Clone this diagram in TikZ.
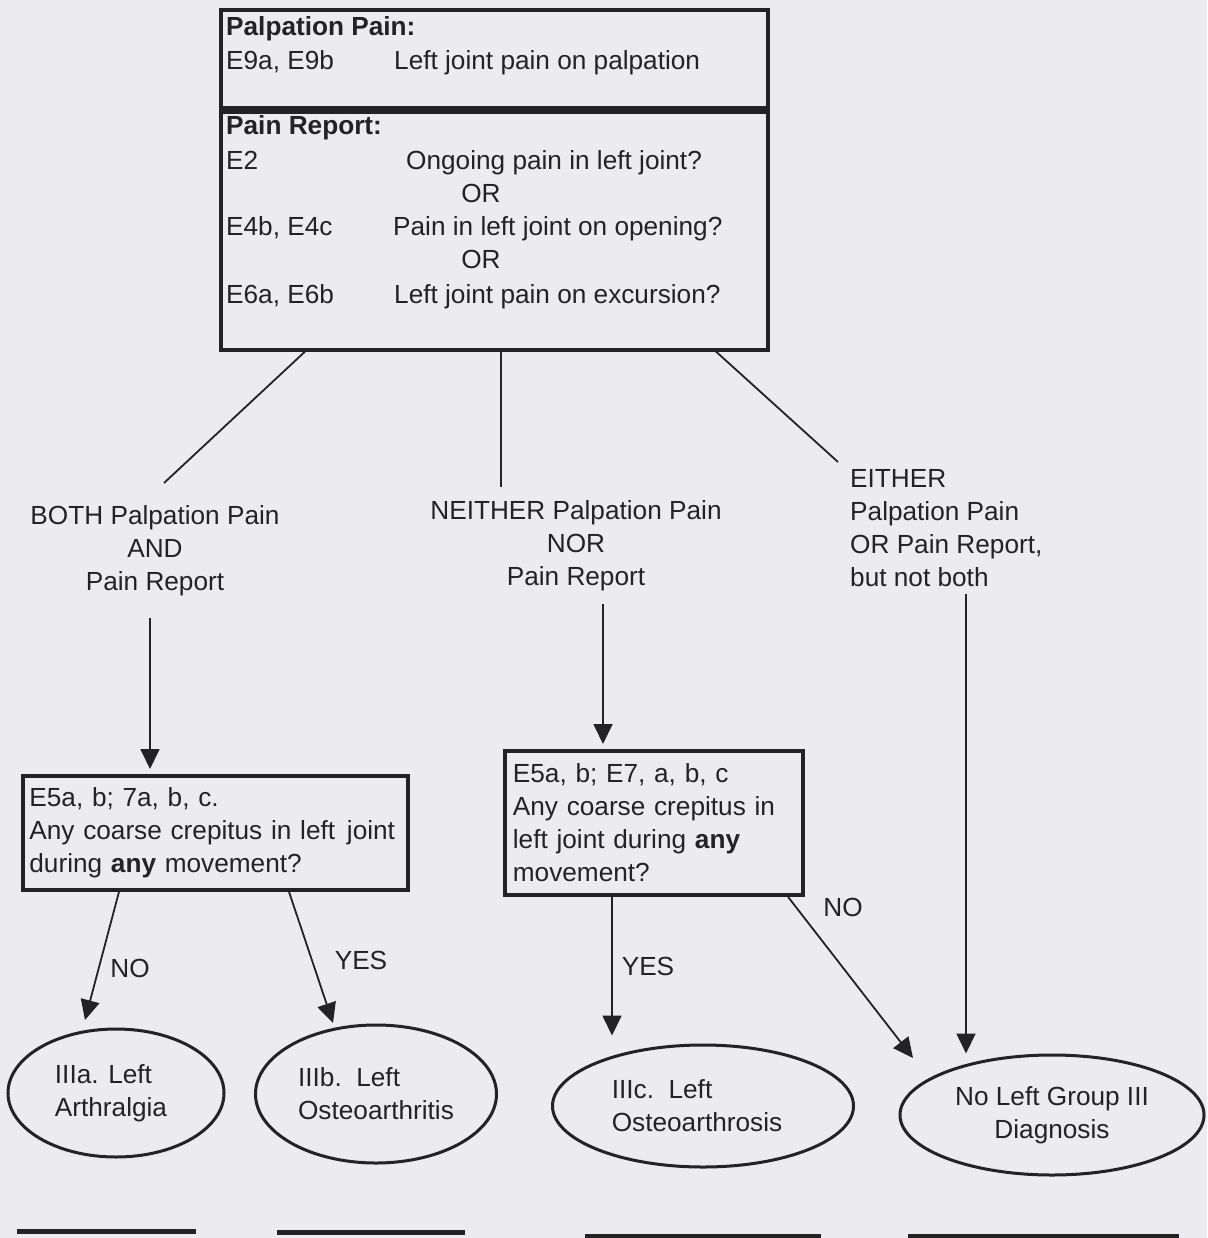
\documentclass[tikz,border=0pt]{standalone}
\usepackage{fontspec}
\setmainfont{Liberation Sans}
\usetikzlibrary{arrows.meta,shapes.geometric}
\definecolor{paper}{RGB}{236,236,240}
\definecolor{ink}{RGB}{35,35,35}

\tikzset{
  every node/.style={font=\fontsize{26.2}{33}\selectfont, text=ink},
  framebox/.style={draw=ink, line width=3.8pt, rectangle, inner sep=0pt},
  linetext/.style={inner sep=0pt, anchor=base west},
  choice/.style={align=center, inner xsep=0pt},
  qbox/.style={draw=ink, line width=3.8pt, align=left, anchor=north west, inner ysep=0pt},
  outcome/.style={draw=ink, ellipse, line width=3pt, inner sep=0pt, align=left},
  link/.style={draw=ink, line width=1.8pt},
  arr/.style={link, -{Triangle[length=20pt,width=19pt]}},
  answer/.style={inner sep=0pt},
  sigline/.style={draw=ink, line width=5pt},
}

\begin{document}
\begin{tikzpicture}[x=1pt,y=-1pt]
\useasboundingbox (0,0) rectangle (1207,1238);
\fill[paper] (0,0) rectangle (1207,1238);

% criteria box: palpation section on top of the pain report section
\node[framebox, anchor=north west, minimum width=547pt, minimum height=98pt] (palp) at (219,8) {};
\node[framebox, anchor=north west, minimum width=547pt, minimum height=238pt] (rep) at (palp.south west) {};

\node[linetext] (palpHead) at (226,36) {\textbf{Palpation Pain:}};
\node[linetext] (palpCode) at (226,70) {E9a, E9b};
\node[linetext] (palpText) at (394,70) {Left joint pain on palpation};
\node[linetext] (repHead) at (226,135) {\textbf{Pain Report:}};
\node[linetext] (repCodeA) at (226,170) {E2};
\node[linetext] (repTextA) at (406,170) {Ongoing pain in left joint?};
\node[linetext, anchor=base] (orA) at (481,203) {OR};
\node[linetext] (repCodeB) at (226,236) {E4b, E4c};
\node[linetext] (repTextB) at (393,236) {Pain in left joint on opening?};
\node[linetext, anchor=base] (orB) at (481,269) {OR};
\node[linetext] (repCodeC) at (226,303) {E6a, E6b};
\node[linetext] (repTextC) at (394,303) {Left joint pain on excursion?};

% the three outcomes of the pain criteria
\node[choice, inner ysep=22pt, anchor=north] (both) at (155,483) {BOTH Palpation Pain\\AND\\Pain Report};
\node[choice, inner ysep=13pt, anchor=north] (neither) at (576,487) {NEITHER Palpation Pain\\NOR\\Pain Report};
\node[choice, align=left, inner xsep=12pt, inner ysep=7pt, anchor=north west] (either) at (838,462) {EITHER\\Palpation Pain\\OR Pain Report,\\but not both};

% crepitus questions
\node[qbox, minimum height=114pt, text width=372pt, inner xsep=6.5pt] (crepL) at (21,774)
  {E5a, b; 7a, b, c.\\\mbox{Any coarse crepitus in left\hspace{0.45em}joint}\\during \textbf{any} movement?};
\node[qbox, minimum height=144pt, text width=282pt, inner xsep=8pt] (crepM) at (503,749)
  {E5a, b; E7, a, b, c\\Any coarse crepitus in\\left joint during \textbf{any}\\movement?};

% diagnoses
\node[outcome, minimum width=216pt, minimum height=128pt] (arthralgia) at (116,1093) {IIIa. Left\\Arthralgia\hspace*{10pt}};
\node[outcome, minimum width=241pt, minimum height=138pt] (osteitis) at (376,1094) {IIIb.\ \ Left\\Osteoarthritis};
\node[outcome, minimum width=301pt, minimum height=122pt] (osteosis) at (703,1106) {IIIc.\ \ Left\\Osteoarthrosis\hspace*{12pt}};
\node[outcome, align=center, minimum width=304pt, minimum height=120pt] (nodiag) at (1052,1115) {No Left Group III\\Diagnosis};

% answer labels
\node[answer] (noL) at (130,968) {NO};
\node[answer] (yesL) at (361,960) {YES};
\node[answer] (yesM) at (648,966) {YES};
\node[answer] (noM) at (843,907) {NO};

% connector positions
\coordinate (xBoth) at (150,0);
\coordinate (xNeither) at (603,0);
\coordinate (xEither) at (966,0);
\coordinate (noLStart) at (119,0);
\coordinate (noLTip) at (85,1020);
\coordinate (yesLStart) at (289,0);
\coordinate (yesLTip) at (333,1023);
\coordinate (xYesM) at (612,0);
\coordinate (noMStart) at (788,0);
\coordinate (noMTip) at (913,1058);

% branches out of the criteria box
\draw[link] ([xshift=86pt]rep.south west) -- ([xshift=9pt]both.north);
\draw[link] ([xshift=282pt]rep.south west) -- ([xshift=-75pt]neither.north);
\draw[link] ([xshift=497pt]rep.south west) -- (either.north west);

\draw[arr, shorten >=5pt] (both.south -| xBoth) -- (crepL.north -| xBoth);
\draw[arr, shorten >=5pt] (neither.south -| xNeither) -- (crepM.north -| xNeither);
\draw[arr] (either.south -| xEither) -- (nodiag.north -| xEither);

% answers to the crepitus questions
\draw[arr] (crepL.south -| noLStart) -- (noLTip);
\draw[arr] (crepL.south -| yesLStart) -- (yesLTip);
\draw[arr, shorten >=8pt] (crepM.south -| xYesM) -- (osteosis.north -| xYesM);
\draw[arr] (crepM.south -| noMStart) -- (noMTip);

% rules under the diagnoses
\draw[sigline] (17,1231) -- (196,1231);
\draw[sigline] (277,1232) -- (465,1232);
\draw[sigline] (585,1236) -- (821,1236);
\draw[sigline] (908,1236) -- (1179,1236);
\end{tikzpicture}
\end{document}
